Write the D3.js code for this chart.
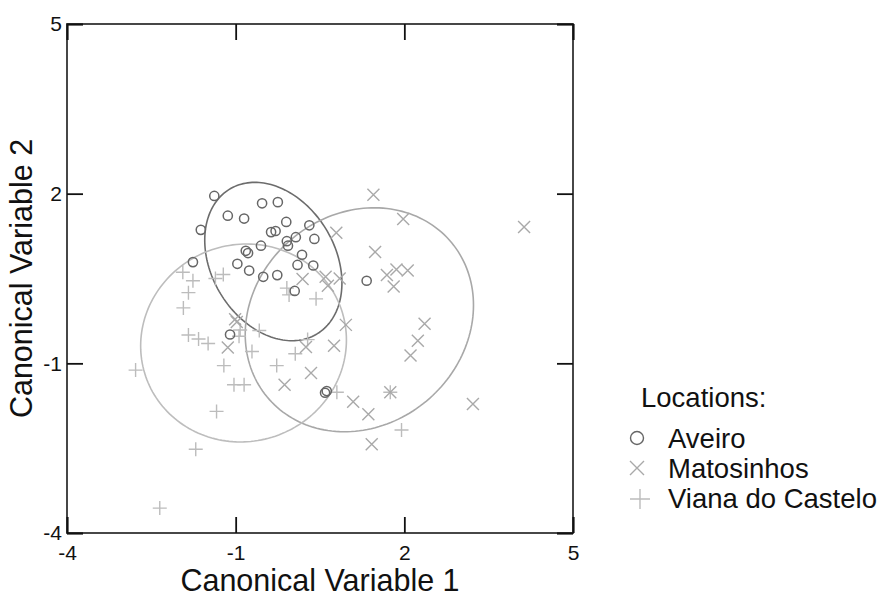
<!DOCTYPE html>
<html lang="en">
<head>
<meta charset="UTF-8">
<title>Canonical variables</title>
<script src="https://cdn.jsdelivr.net/npm/d3@7"></script>
<style>
    body, html { margin: 0; padding: 0; background: #fff; }
    svg { display: block; font-family: "Liberation Sans", Arial, sans-serif; }
</style>
</head>
<body>
<svg id="chart" width="892" height="598"></svg>
<script>
// ---- data ----
const tickValues = [-4, -1, 2, 5];
const groups = ["Aveiro", "Matosinhos", "Viana do Castelo"];

const aveiroX = [-1.38, -0.53, -0.25, -1.14, -0.85, -0.10, -1.62, 0.31, -0.37, -0.29,
                 0.40, 0.07, -0.09, -0.07, -0.55, -0.82, -0.78, 0.18, -0.97, 0.10,
                 0.38, -0.76, -0.51, -0.26, 0.05, -1.76, -1.10, 1.33, 0.59, 0.62];
const aveiroY = [1.96, 1.83, 1.85, 1.61, 1.56, 1.50, 1.36, 1.44, 1.32, 1.34,
                 1.20, 1.23, 1.16, 1.08, 1.08, 0.99, 0.95, 0.92, 0.76, 0.74,
                 0.73, 0.64, 0.53, 0.56, 0.28, 0.79, -0.49, 0.46, -1.52, -1.49];

const matosX = [1.45, 1.98, 4.13, 0.79, 1.48, 1.69, 1.86, 2.06, 1.81, 0.19,
                0.60, 0.64, 0.85, 0.96, 2.36, 2.24, 2.11, 0.25, 0.75, 0.34,
                -0.13, 1.09, 1.75, 3.22, 1.36, 1.42, -1.01, -1.14, -0.98];
const matosY = [1.98, 1.55, 1.41, 1.31, 0.97, 0.56, 0.66, 0.64, 0.36, 0.49,
                0.53, 0.37, 0.50, -0.32, -0.30, -0.60, -0.86, -0.71, -0.69, -1.17,
                -1.38, -1.68, -1.51, -1.72, -1.90, -2.43, -0.22, -0.72, -0.27];

const vianaX = [-1.94, -1.76, -1.84, -1.93, -1.36, -1.22, -1.84, -1.66, -1.49, -2.78,
                -1.21, -1.03, -0.85, -1.34, -1.71, -2.35, -0.92, -0.94, -0.58, -0.71,
                -0.27, 0.06, -0.09, -0.05, 0.43, 0.28, 0.80, 1.75, 1.95];
const vianaY = [0.61, 0.46, 0.25, -0.02, 0.50, 0.57, -0.50, -0.57, -0.65, -1.12,
                -1.04, -1.38, -1.38, -1.85, -2.52, -3.56, -0.41, -0.52, -0.42, -0.79,
                -1.04, -0.83, 0.33, 0.21, 0.14, -0.58, -1.51, -1.51, -2.18];

// confidence ellipses: centre, spread along each axis, correlation
const ellCx  = [-0.33, 1.20, -0.86];
const ellCy  = [0.80, -0.23, -0.64];
const ellSx  = [1.22, 2.03, 1.83];
const ellSy  = [1.40, 1.98, 1.75];
const ellRho = [-0.27, 0.13, 0.03];

const svg = d3.select("#chart");
const pLeft = 67, pRight = 573, pTop = 24, pBottom = 533;

const x = d3.scaleLinear().domain([-4, 5]).range([pLeft, pRight]);
const y = d3.scaleLinear().domain([-4, 5]).range([pBottom, pTop]);

const colors = ["#666666", "#a9a9a9", "#bcbcbc"];
const ellColors = ["#6c6c6c", "#a8a8a8", "#bdbdbd"];

// ellipses
const line = d3.line().x(d => x(d[0])).y(d => y(d[1]));
ellCx.forEach((cx, i) => {
    const pts = d3.range(0, 181).map(k => {
        const t = k / 180 * 2 * Math.PI;
        const r = ellRho[i];
        return [cx + ellSx[i] * Math.cos(t),
                ellCy[i] + ellSy[i] * (r * Math.cos(t) + Math.sqrt(1 - r * r) * Math.sin(t))];
    });
    svg.append("path")
        .attr("d", line(pts) + "Z")
        .attr("fill", "none")
        .attr("stroke", ellColors[i])
        .attr("stroke-width", 1.6);
});

// markers
function cross(g, cx, cy, s, color) {
    g.append("path")
        .attr("d", `M${cx - s},${cy - s}L${cx + s},${cy + s}M${cx - s},${cy + s}L${cx + s},${cy - s}`)
        .attr("stroke", color).attr("stroke-width", 1.4).attr("fill", "none");
}
function plus(g, cx, cy, s, color) {
    g.append("path")
        .attr("d", `M${cx - s},${cy}L${cx + s},${cy}M${cx},${cy - s}L${cx},${cy + s}`)
        .attr("stroke", color).attr("stroke-width", 1.4).attr("fill", "none");
}

const marks = svg.append("g");
vianaX.forEach((v, i) => plus(marks, x(v), y(vianaY[i]), 7, colors[2]));
matosX.forEach((v, i) => cross(marks, x(v), y(matosY[i]), 6, colors[1]));
marks.selectAll("circle")
    .data(aveiroX.map((v, i) => [v, aveiroY[i]]))
    .join("circle")
    .attr("cx", d => x(d[0]))
    .attr("cy", d => y(d[1]))
    .attr("r", 4.6)
    .attr("fill", "none")
    .attr("stroke", colors[0])
    .attr("stroke-width", 1.5);

// frame
svg.append("rect")
    .attr("x", pLeft).attr("y", pTop)
    .attr("width", pRight - pLeft).attr("height", pBottom - pTop)
    .attr("fill", "none").attr("stroke", "#333").attr("stroke-width", 1.8);

// axes (ticks inside, mirrored)
const tl = 16;
const fmt = d => String(d);
svg.append("g").attr("transform", `translate(0,${pBottom})`)
    .call(d3.axisBottom(x).tickValues(tickValues).tickFormat(fmt).tickSizeInner(-tl).tickSizeOuter(0).tickPadding(12))
    .call(g => g.select(".domain").remove());
svg.append("g").attr("transform", `translate(0,${pTop})`)
    .call(d3.axisTop(x).tickValues(tickValues).tickSizeInner(-tl).tickSizeOuter(0).tickFormat(""))
    .call(g => g.select(".domain").remove());
svg.append("g").attr("transform", `translate(${pLeft},0)`)
    .call(d3.axisLeft(y).tickValues(tickValues).tickFormat(fmt).tickSizeInner(-tl).tickSizeOuter(0).tickPadding(5))
    .call(g => g.select(".domain").remove());
svg.append("g").attr("transform", `translate(${pRight},0)`)
    .call(d3.axisRight(y).tickValues(tickValues).tickSizeInner(-tl).tickSizeOuter(0).tickFormat(""))
    .call(g => g.select(".domain").remove());

svg.selectAll(".tick line").attr("stroke", "#111").attr("stroke-width", 1.8);
svg.selectAll(".tick text")
    .attr("font-family", "'Liberation Sans', Arial, sans-serif")
    .attr("font-size", 21)
    .attr("fill", "#111");
svg.selectAll(".tick line").filter(d => d === -4 || d === 5).attr("stroke-width", 2.2);

// axis titles
svg.append("text")
    .attr("x", (pLeft + pRight) / 2)
    .attr("y", 591)
    .attr("text-anchor", "middle")
    .attr("font-size", 30.5)
    .attr("fill", "#111")
    .text("Canonical Variable 1");
svg.append("text")
    .attr("transform", `translate(32,${(pTop + pBottom) / 2}) rotate(-90)`)
    .attr("text-anchor", "middle")
    .attr("font-size", 30.5)
    .attr("fill", "#111")
    .text("Canonical Variable 2");

// legend
const lg = svg.append("g").attr("font-size", 27.5).attr("fill", "#111");
lg.append("text").attr("x", 641).attr("y", 407).text("Locations:");
const rowY = [448, 478, 508];
groups.forEach((name, i) => {
    lg.append("text").attr("x", 668).attr("y", rowY[i]).text(name);
});
lg.append("circle").attr("cx", 637).attr("cy", 438).attr("r", 6.5)
    .attr("fill", "none").attr("stroke", colors[0]).attr("stroke-width", 1.4);
cross(lg, 637, 468, 7, colors[1]);
plus(lg, 640, 499, 10, colors[2]);
</script>
</body>
</html>
